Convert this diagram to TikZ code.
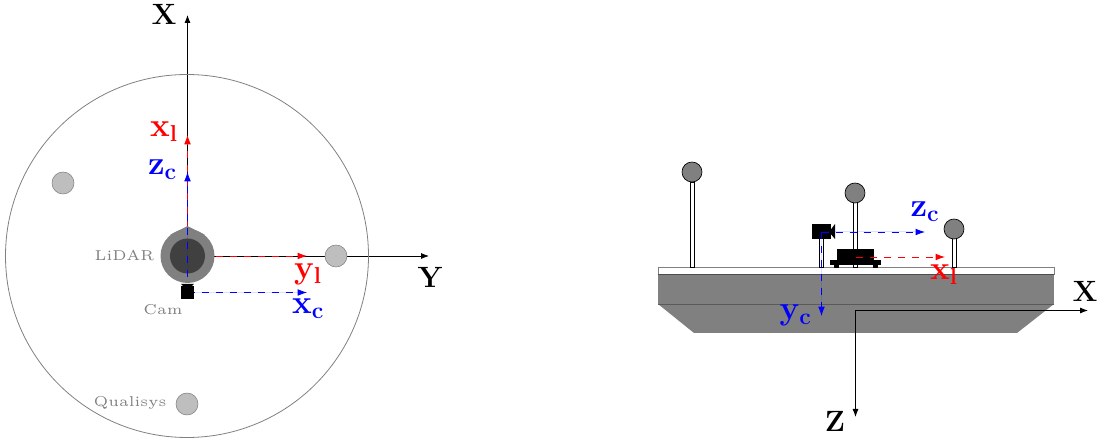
\documentclass[tikz,border=0pt]{standalone}
\usepackage{amsmath,amssymb}
\usetikzlibrary{arrows.meta,positioning,calc}
\definecolor{darkgrey}{RGB}{64,64,64}
\definecolor{midgrey}{RGB}{128,128,128}
\definecolor{lightgrey}{RGB}{190,190,190}
\definecolor{frameblue}{RGB}{0,0,255}
\tikzset{
    axis/.style={black, line width=0.6pt, -{Latex[length=6pt,width=4.5pt]}},
    frameaxis/.style={line width=0.6pt, dash pattern=on 5.5pt off 5pt, -{Latex[length=7pt,width=5pt]}},
    camaxis/.style={frameaxis, draw=frameblue, fill=frameblue},
    axislabel/.style={font=\fontsize{22}{22}\bfseries\selectfont},
    framelabel/.style={font=\fontsize{24}{24}\bfseries\selectfont},
    namelabel/.style={font=\tiny, scale=2.15, text=midgrey},
    marker/.style={circle, draw=midgrey, fill=lightgrey, line width=0.4pt, minimum size=16.5pt, inner sep=0pt},
    ball/.style={circle, draw=black, fill=midgrey, line width=0.5pt, minimum size=15pt, inner sep=0pt},
    pole/.style={draw=black, fill=white, line width=0.6pt},
}
\begin{document}
\begin{tikzpicture}[x=0.75pt,y=-0.75pt]
    \useasboundingbox (0,0) rectangle (1097,438);

    % top view
    \coordinate (origT) at (187.5,256);
    \coordinate (topX) at (187.5,15);
    \coordinate (topY) at (429,256);
    \draw[axis] (origT) -- (topY);
    \draw[axis] (origT) -- (topX);
    \node[axislabel] (labXT) at (164,14) {X};
    \node[axislabel] (labYT) at (430,277) {Y};

    \coordinate (lidarX) at (187.5,135);
    \coordinate (lidarY) at (307,256);
    \coordinate (camO) at (187.5,292.5);
    \coordinate (camX) at (307,292.5);
    \coordinate (camZ) at (187.5,172);
    \coordinate (camB) at (187.5,277);
    \draw[frameaxis, red] (origT) -- (lidarX);
    \draw[frameaxis, red] (origT) -- (lidarY);
    \draw[camaxis] (camO) -- (camX);

    \draw[midgrey, line width=0.6pt] (187,256) circle (181.5);
    \node[marker] (markerA) at (63,183) {};
    \node[marker] (markerB) at (336,256) {};
    \node[marker] (markerC) at (187,404) {};
    \fill[midgrey] (187.5,256) circle (27);
    \fill[midgrey] (170,235) -- (187.5,226) -- (205,235) -- cycle;
    \fill[darkgrey] (187.5,256) circle (17.5);
    \fill[black] (181,286) rectangle (194,299);
    \fill[black] (183,286) -- (181,284) -- (194,284) -- (192,286) -- cycle;
    \draw[camaxis] (camB) -- (camZ);

    \node[framelabel, red] (labXl) at (164,132) {$\mathbf{x_l}$};
    \node[framelabel, red] (labYl) at (308,274) {$\mathbf{y_l}$};
    \node[framelabel, frameblue] (labZc) at (162.5,170) {$\mathbf{z_c}$};
    \node[framelabel, frameblue] (labXc) at (308,309) {$\mathbf{x_c}$};
    \node[namelabel] (labLidar) at (124.5,256) {LiDAR};
    \node[namelabel] (labCam) at (163,310) {Cam};
    \node[namelabel] (labQual) at (130,403) {Qualisys};

    % side view
    \draw[midgrey, line width=0.6pt, fill=white] (658,267) rectangle (1054,274);
    \fill[midgrey] (658,274) rectangle (1054,304);
    \fill[midgrey] (658,304) -- (1054,304) -- (1017,333) -- (694,333) -- cycle;
    \draw[darkgrey!80!midgrey, line width=0.6pt] (658,274) -- (1054,274);
    \draw[darkgrey!60!midgrey, line width=0.5pt] (658,304) -- (1054,304);
    \foreach \x/\y in {692.3/182,855.3/200,954.3/236} {\draw[pole] (\x-2,\y) rectangle (\x+2,267);}
    \draw[pole] (819.5,238) rectangle (823.5,267);
    \node[ball] (ballA) at (692,172) {};
    \node[ball] (ballB) at (855,193) {};
    \node[ball] (ballC) at (954,229) {};
    \fill[black] (812,224) rectangle (831,239);
    \fill[black] (829,232) -- (835,224) -- (835,239) -- cycle;
    \fill[black] (837,249) rectangle (874,260);
    \fill[black] (830,260) rectangle (881,265);
    \foreach \x in {834,873} {\fill[black] (\x,265) rectangle (\x+5,268);}

    \coordinate (origS) at (855.5,310.5);
    \coordinate (sideX) at (1088,310.5);
    \coordinate (sideZ) at (855.5,417);
    \draw[axis] (origS) -- (sideX);
    \draw[axis] (origS) -- (sideZ);
    \node[axislabel] (labXS) at (1085,291) {X};
    \node[axislabel] (labZS) at (835,421) {Z};

    \coordinate (camS) at (821.5,232);
    \coordinate (camSZ) at (925,232);
    \coordinate (camSY) at (821.5,316);
    \coordinate (lidarS) at (855.5,257);
    \coordinate (lidarSX) at (945,257);
    \draw[frameaxis, red] (lidarS) -- (lidarSX);
    \draw[camaxis] (camS) -- (camSZ);
    \draw[camaxis] (camS) -- (camSY);
    \node[framelabel, frameblue] (labZcS) at (925,212) {$\mathbf{z_c}$};
    \node[framelabel, frameblue] (labYcS) at (795.5,315) {$\mathbf{y_c}$};
    \node[framelabel, red] (labXlS) at (944,275) {$\mathbf{x_l}$};
\end{tikzpicture}
\end{document}
